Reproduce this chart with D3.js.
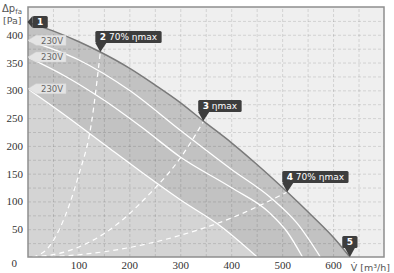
<!DOCTYPE html>
<html>
<head>
<meta charset="utf-8">
<script src="https://cdn.jsdelivr.net/npm/d3@7"></script>
<style>
  html, body { margin: 0; padding: 0; background: #fff; }
  svg { display: block; }
</style>
</head>
<body>
<div id="chart"></div>
<script>
// fan envelope (max curve), q in m3/h, p in Pa
const envQ = [0, 50, 100, 143, 200, 250, 300, 345, 400, 450, 510, 560, 600, 633];
const envP = [423, 407, 388, 369, 340, 310, 278, 245, 206, 167, 117, 73, 36, 0];

// constant speed curves (230V)
const speedHiQ = [0, 100, 200, 300, 400, 476, 530, 575];
const speedHiP = [390, 355, 300, 228, 158, 108, 60, 0];
const speedMidQ = [0, 75, 149, 225, 300, 400, 476, 510, 540];
const speedMidP = [360, 325, 283, 233, 180, 125, 79, 45, 0];
const speedLoQ = [0, 65, 150, 225, 300, 380, 451];
const speedLoP = [303, 261, 203, 152, 103, 55, 0];

// system curves (dashed)
const sys70aQ = [10, 40, 70, 100, 125, 143];
const sys70aP = [0, 16, 65, 146, 238, 369];
const sysMaxQ = [10, 80, 160, 240, 300, 345];
const sysMaxP = [0, 11, 48, 114, 178, 243];
const sys70bQ = [10, 100, 200, 300, 400, 510];
const sys70bP = [0, 4, 17, 39, 70, 117];

const speedLabels = ['230V', '230V', '230V'];
const markerIds = ['1', '2', '3', '4', '5'];
const markerText = ['', '70% ηmax', 'ηmax', '70% ηmax', ''];
const markerQ = [0, 143, 345, 510, 633];
const markerP = [423, 369, 245, 117, 0];

const xTicks = [100, 200, 300, 400, 500, 600];
const yTicks = [50, 100, 150, 200, 250, 300, 350, 400];

const width = 394, height = 273;
const plot = { left: 28, right: 384, top: 7, bottom: 257 };

const x = d3.scaleLinear().domain([0, 700]).range([27.5, 384]);
const y = d3.scaleLinear().domain([0, 450]).range([257, 7]);

const svg = d3.select('#chart').append('svg')
  .attr('width', width)
  .attr('height', height);

svg.append('defs').append('clipPath')
  .attr('id', 'clip')
  .append('rect')
  .attr('x', plot.left).attr('y', plot.top)
  .attr('width', plot.right - plot.left)
  .attr('height', plot.bottom - plot.top);

// plot background
svg.append('rect')
  .attr('x', plot.left).attr('y', plot.top)
  .attr('width', plot.right - plot.left)
  .attr('height', plot.bottom - plot.top)
  .attr('fill', '#efefef');

const zip = (qs, ps) => qs.map((q, i) => [q, ps[i]]);

const line = d3.line()
  .x(d => x(d[0]))
  .y(d => y(d[1]))
  .curve(d3.curveMonotoneX);

const area = d3.area()
  .x(d => x(d[0]))
  .y0(y(0))
  .y1(d => y(d[1]))
  .curve(d3.curveMonotoneX);

const g = svg.append('g').attr('clip-path', 'url(#clip)');

// filled regions
g.append('path')
  .datum(zip(envQ, envP))
  .attr('d', area)
  .attr('fill', '#c2c2c2');

g.append('path')
  .datum(zip(speedLoQ, speedLoP))
  .attr('d', area)
  .attr('fill', '#d4d4d4');

// gridlines
const grid = g.append('g').attr('class', 'grid');
grid.append('g')
  .attr('transform', `translate(0,${plot.bottom})`)
  .call(d3.axisBottom(x).tickValues(d3.range(50, 700, 50)).tickSize(-(plot.bottom - plot.top)).tickFormat(''));
grid.append('g')
  .attr('transform', `translate(${plot.left},0)`)
  .call(d3.axisLeft(y).tickValues(d3.range(25, 450, 25)).tickSize(-(plot.right - plot.left)).tickFormat(''));
grid.selectAll('.domain').remove();
grid.selectAll('line')
  .attr('stroke', 'rgba(0,0,0,0.12)')
  .attr('stroke-dasharray', '3,2');

// speed curves
[[speedHiQ, speedHiP], [speedMidQ, speedMidP], [speedLoQ, speedLoP]].forEach(([qs, ps]) => {
  g.append('path')
    .datum(zip(qs, ps))
    .attr('d', line)
    .attr('fill', 'none')
    .attr('stroke', '#fff')
    .attr('stroke-width', 1.3);
});

// system curves
[[sys70aQ, sys70aP], [sysMaxQ, sysMaxP], [sys70bQ, sys70bP]].forEach(([qs, ps]) => {
  g.append('path')
    .datum(zip(qs, ps))
    .attr('d', line)
    .attr('fill', 'none')
    .attr('stroke', '#fff')
    .attr('stroke-width', 1.2)
    .attr('stroke-dasharray', '5,4');
});

// envelope
g.append('path')
  .datum(zip(envQ, envP))
  .attr('d', line)
  .attr('fill', 'none')
  .attr('stroke', '#7a7a7a')
  .attr('stroke-width', 1.5);

// frame
svg.append('rect')
  .attr('x', plot.left).attr('y', plot.top)
  .attr('width', plot.right - plot.left)
  .attr('height', plot.bottom - plot.top)
  .attr('fill', 'none')
  .attr('stroke', '#8e8e8e')
  .attr('stroke-width', 1.5);

// axes
const axisFont = '"Liberation Serif", serif';
const yAxis = svg.append('g')
  .attr('transform', `translate(${plot.left - 5},0)`)
  .call(d3.axisLeft(y).tickValues(yTicks).tickSize(0).tickPadding(0));
yAxis.select('.domain').remove();
yAxis.selectAll('text')
  .style('font-family', axisFont)
  .style('font-size', '11px')
  .attr('fill', '#333');

const xAxis = svg.append('g')
  .attr('transform', `translate(0,${plot.bottom + 4})`)
  .call(d3.axisBottom(x).tickValues(xTicks).tickSize(0).tickPadding(0));
xAxis.select('.domain').remove();
xAxis.selectAll('text')
  .style('font-family', axisFont)
  .style('font-size', '11px')
  .attr('fill', '#333');

svg.append('text')
  .attr('x', 17).attr('y', 267)
  .attr('text-anchor', 'end')
  .style('font-family', axisFont)
  .style('font-size', '11px')
  .attr('fill', '#333')
  .text('0');

// axis titles
const titleFont = '"DejaVu Sans", sans-serif';
const yt = svg.append('text')
  .attr('x', 2).attr('y', 12)
  .style('font-family', titleFont)
  .style('font-size', '10px')
  .attr('fill', '#555');
yt.append('tspan').text('Δp');
yt.append('tspan').attr('dy', 2).style('font-size', '7px').text('fa');
svg.append('text')
  .attr('x', 3).attr('y', 24)
  .style('font-family', titleFont)
  .style('font-size', '9.5px')
  .attr('fill', '#555')
  .text('[Pa]');

svg.append('text')
  .attr('x', 390).attr('y', 271)
  .attr('text-anchor', 'end')
  .style('font-family', titleFont)
  .style('font-size', '9.5px')
  .attr('fill', '#555')
  .text('V\u0307 [m³/h]');

// speed labels at the left edge
[speedHiP[0], speedMidP[0], speedLoP[0]].forEach((p, i) => {
  const tx = plot.left, ty = y(p);
  const lg = svg.append('g');
  lg.append('path')
    .attr('d', `M${tx},${ty} L${tx + 8},${ty - 5} L${tx + 38},${ty - 5} L${tx + 38},${ty + 5} L${tx + 8},${ty + 5} Z`)
    .attr('fill', '#e4e4e4')
    .attr('stroke', '#d2d2d2')
    .attr('stroke-width', 0.5);
  lg.append('text')
    .attr('x', tx + 24).attr('y', ty + 3.2)
    .attr('text-anchor', 'middle')
    .style('font-family', titleFont)
    .style('font-size', '8.5px')
    .attr('fill', '#666')
    .text(speedLabels[i]);
});

// numbered markers
markerIds.forEach((id, i) => {
  const tx = x(markerQ[i]), ty = y(markerP[i]);
  const mg = svg.append('g');
  const label = mg.append('text')
    .style('font-family', titleFont)
    .style('font-size', '9px')
    .attr('fill', '#fff');
  label.append('tspan').style('font-weight', 'bold').text(id);
  if (markerText[i]) label.append('tspan').text(' ' + markerText[i]);
  const tw = label.node().getComputedTextLength();
  const bw = tw + 9, bh = 12;
  let bx, by, tail;
  if (i === 0) {
    bx = tx + 5; by = ty - bh / 2;
    tail = `M${tx},${ty} L${bx},${by} L${bx},${by + bh} Z`;
  } else if (i === markerIds.length - 1) {
    bx = tx - bw / 2; by = ty - 9 - bh;
    tail = `M${tx - 5},${by + bh} L${tx + 5},${by + bh} L${tx},${ty} Z`;
  } else {
    bx = tx - 5; by = ty - 9 - bh;
    tail = `M${bx},${by + bh} L${bx + 11},${by + bh} L${tx},${ty} Z`;
  }
  mg.insert('rect', 'text')
    .attr('x', bx).attr('y', by)
    .attr('width', bw).attr('height', bh)
    .attr('rx', 1.5)
    .attr('fill', '#3d3d3d');
  mg.insert('path', 'text')
    .attr('d', tail)
    .attr('fill', '#3d3d3d');
  label.attr('x', bx + 4.5).attr('y', by + 9);
});
</script>
</body>
</html>
